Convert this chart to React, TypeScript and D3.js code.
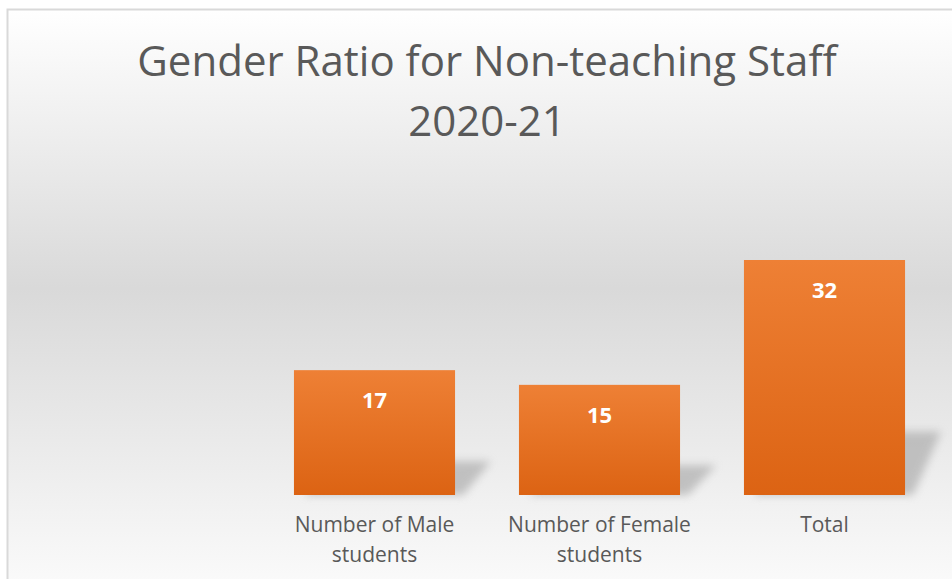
import * as React from 'react';
import {scaleBand, scaleLinear} from 'd3';

const categories = ['Number of Male students', 'Number of Female students', 'Total'];
const categoryLines = [['Number of Male', 'students'], ['Number of Female', 'students'], ['Total']];
const values = [17, 15, 32];
const titleLines = ['Gender Ratio for Non-teaching Staff', '2020-21'];

const width = 952;
const height = 579;
const baseline = 495;

const xScale = scaleBand()
    .domain(categories)
    .range([262, 937])
    .paddingInner(0.284)
    .paddingOuter(0.142);

// 32 -> 235px tall
const yScale = scaleLinear()
    .domain([0, 40])
    .range([baseline, baseline - 293.75]);

const font = '"Open Sans", "Segoe UI", sans-serif';

export default function App() {
    const bw = xScale.bandwidth();
    return (
        <svg width={width} height={height} style={{position: 'absolute', left: 0, top: 0}}>
            <defs>
                <linearGradient id="bg" x1="0" y1="0" x2="0" y2="1">
                    <stop offset="0" stopColor="#ffffff" />
                    <stop offset="0.45" stopColor="#d9d9d9" />
                    <stop offset="1" stopColor="#ffffff" />
                </linearGradient>
                <linearGradient id="bar" x1="0" y1="0" x2="0" y2="1">
                    <stop offset="0" stopColor="#ee8035" />
                    <stop offset="1" stopColor="#dc6313" />
                </linearGradient>
                <filter id="blur" x="-50%" y="-50%" width="200%" height="200%">
                    <feGaussianBlur stdDeviation="4" />
                </filter>
            </defs>
            <rect x={7.5} y={9.5} width={width + 20} height={height + 40} fill="url(#bg)" stroke="#d9d9d9" strokeWidth={2} />
            {titleLines.map((t, i) => (
                <text key={t} x={487} y={76 + i * 60} textAnchor="middle" fontFamily={font} fontSize={42} fill="#595959">{t}</text>
            ))}
            {values.map((v, i) => {
                const x0 = xScale(categories[i]) as number;
                const x1 = x0 + bw;
                const top = yScale(v);
                const h = baseline - top;
                const sh = h * 0.27;
                const pts = [
                    [x0 + 10, baseline],
                    [x1 + 8, baseline],
                    [x1 + 36, baseline - sh],
                    [x0 + 40, baseline - sh],
                ].map(p => p.join(',')).join(' ');
                return (
                    <g key={i}>
                        <polygon points={pts} fill="#a8a8a8" opacity={0.65} filter="url(#blur)" />
                        <rect x={x0} y={top} width={bw} height={h} fill="url(#bar)" />
                        <text x={x0 + bw / 2} y={top + 38} textAnchor="middle" fontFamily={font} fontWeight="bold" fontSize={22} fill="#ffffff">{v}</text>
                    </g>
                );
            })}
            {categoryLines.map((lines, i) => (
                <text key={i} textAnchor="middle" fontFamily={font} fontSize={21} fill="#595959">
                    {lines.map((l, j) => (
                        <tspan key={j} x={(xScale(categories[i]) as number) + bw / 2} y={532 + j * 30}>{l}</tspan>
                    ))}
                </text>
            ))}
        </svg>
    );
}
